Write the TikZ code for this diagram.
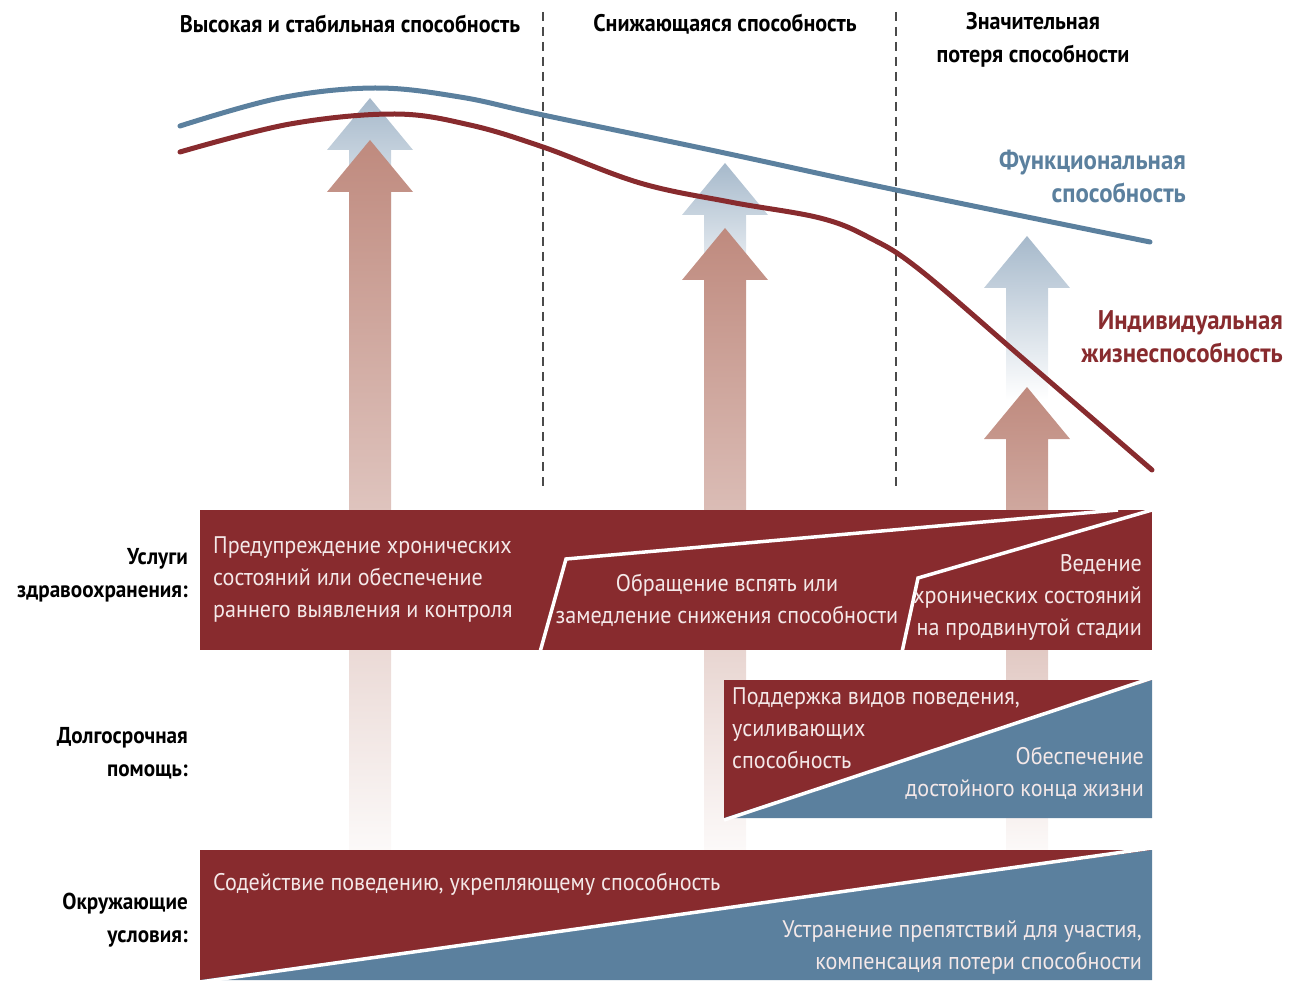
\documentclass[tikz,border=0pt]{standalone}
\usepackage{fontspec}
\setmainfont{PT Sans}[FakeStretch=0.92]
\usetikzlibrary{positioning}

\definecolor{capred}{HTML}{882B2E}
\definecolor{capblue}{HTML}{5B809E}
\definecolor{arrred}{HTML}{BF8A7E}
\definecolor{arrblue}{HTML}{A6B9CB}
\definecolor{boxtxt}{HTML}{F4E8E8}
\definecolor{dashgray}{HTML}{4A4A4A}

% outline of an upward block arrow: centre x, tip y, foot y
\newcommand{\liftpath}[3]{({#1-21},#3) -- ({#1-21},{#2+52}) -- ({#1-43},{#2+52}) -- (#1,#2) -- ({#1+43},{#2+52}) -- ({#1+21},{#2+52}) -- ({#1+21},#3) -- cycle}

\begin{document}
\begin{tikzpicture}[x=1pt,y=-1pt,
  stagehead/.style={font=\bfseries\fontsize{24}{33}\selectfont, align=center, inner sep=0pt},
  rowlabel/.style={font=\bfseries\fontsize{23}{33}\selectfont, align=right, inner sep=0pt, anchor=east},
  boxtext/.style={font=\fontsize{24}{32}\selectfont, text=boxtxt, inner sep=0pt},
  curvelabel/.style={font=\bfseries\fontsize{27}{33}\selectfont, align=right, inner sep=0pt, anchor=east},
  divider/.style={dashgray, line width=1.6pt, dash pattern=on 9pt off 6pt},
  gap/.style={white, line width=3.5pt}]
  \useasboundingbox (0,0) rectangle (1289,981);

  % stages
  \node[stagehead] (high) at (350,24) {Высокая и стабильная способность};
  \node[stagehead] (declining) at (725,24) {Снижающаяся способность};
  \node[stagehead] (loss) at (1033,40) {Значительная\\потеря способности};

  \draw[divider] (543,12) -- (543,488);
  \draw[divider] (896,12) -- (896,488);

  % arrows
  \shade[top color=arrblue, bottom color=white] \liftpath{370}{98}{260};
  \shade[top color=arrblue, bottom color=white] \liftpath{725}{163}{300};
  \shade[top color=arrblue, bottom color=white] \liftpath{1027}{236}{400};
  \shade[top color=arrred, bottom color=arrred!5] \liftpath{370}{140}{850};
  \shade[top color=arrred, bottom color=arrred!5] \liftpath{725}{228}{850};
  \shade[top color=arrred, bottom color=arrred!5] \liftpath{1027}{387}{850};

  % curves
  \draw[capblue, line width=5pt, line cap=round] plot[smooth, tension=0.6] coordinates
    {(180,126) (280,98) (375,88) (460,97) (543,115) (720,152) (896,190) (1150,242)};
  \draw[capred, line width=5pt, line cap=round] plot[smooth, tension=0.6] coordinates
    {(180,152) (290,124) (395,114) (470,125) (543,147) (640,183) (730,202) (820,218) (870,238) (920,270) (1027,362) (1152,470)};

  \node[curvelabel, text=capblue] (func) at (1186,176) {Функциональная\\способность};
  \node[curvelabel, text=capred] (vital) at (1283,337) {Индивидуальная\\жизнеспособность};

  % health services
  \fill[capred] (200,510) rectangle (1152,650);
  \draw[gap] (540,652) -- (566,559) -- (1118,510);
  \draw[gap] (902,652) -- (918,578) -- (1152,510);
  \node[rowlabel] (health) at (188,575) {Услуги\\здравоохранения:};
  \node[boxtext, anchor=west, align=left] (prevent) at (213,579) {Предупреждение хронических\\состояний или обеспечение\\раннего выявления и контроля};
  \node[boxtext, align=center] (reverse) at (727,600) {Обращение вспять или\\замедление снижения способности};
  \node[boxtext, anchor=east, align=right] (manage) at (1142,597) {Ведение\\хронических состояний\\на продвинутой стадии};

  % long-term care
  \fill[capred] (724,680) rectangle (1152,818);
  \fill[capblue] (1152,680) -- (1152,818) -- (724,818) -- cycle;
  \draw[gap] (724,820) -- (1152,678);
  \node[rowlabel] (longterm) at (188,753) {Долгосрочная\\помощь:};
  \node[boxtext, anchor=west, align=left] (support) at (732,728) {Поддержка видов поведения,\\усиливающих\\способность};
  \node[boxtext, anchor=east, align=right] (dignity) at (1144,773) {Обеспечение\\достойного конца жизни};

  % environments
  \fill[capred] (200,850) rectangle (1152,980);
  \fill[capblue] (1152,850) -- (1152,980) -- (200,980) -- cycle;
  \draw[gap] (200,982) -- (1152,848);
  \node[rowlabel] (environ) at (188,920) {Окружающие\\условия:};
  \node[boxtext, anchor=west] (promote) at (213,884) {Содействие поведению, укрепляющему способность};
  \node[boxtext, anchor=east, align=right] (remove) at (1142,947) {Устранение препятствий для участия,\\компенсация потери способности};
\end{tikzpicture}
\end{document}
